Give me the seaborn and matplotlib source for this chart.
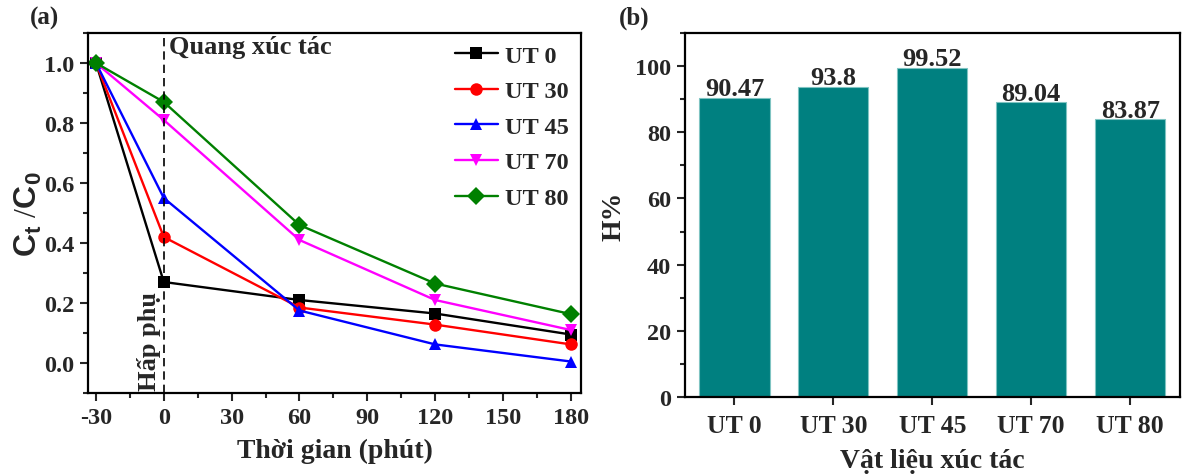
import matplotlib
matplotlib.use("Agg")
import matplotlib.pyplot as plt
import seaborn as sns
import pandas as pd
from matplotlib.ticker import MultipleLocator
from matplotlib.lines import Line2D

# Degradation kinetics data
time_min = [-30, 0, 60, 120, 180]
series_names = ["UT 0", "UT 30", "UT 45", "UT 70", "UT 80"]
ut0 = [1.0, 0.27, 0.21, 0.165, 0.095]
ut30 = [1.0, 0.42, 0.185, 0.128, 0.062]
ut45 = [1.0, 0.55, 0.175, 0.062, 0.005]
ut70 = [1.0, 0.81, 0.41, 0.21, 0.11]
ut80 = [1.0, 0.87, 0.46, 0.265, 0.163]

# Removal efficiency per catalyst
materials = ["UT 0", "UT 30", "UT 45", "UT 70", "UT 80"]
efficiency = [90.47, 93.8, 99.52, 89.04, 83.87]

sns.set_theme(style="ticks")
plt.rcParams["font.family"] = ["Liberation Serif", "DejaVu Serif"]
plt.rcParams["font.weight"] = "bold"
plt.rcParams["axes.unicode_minus"] = False
plt.rcParams["mathtext.fontset"] = "custom"
plt.rcParams["mathtext.bf"] = "Liberation Sans:bold"
plt.rcParams["mathtext.rm"] = "Liberation Sans:bold"
plt.rcParams["axes.linewidth"] = 1.6

colors = ["#000000", "#FF0000", "#0000FF", "#FF00FF", "#008000"]
markers = ["s", "o", "^", "v", "D"]

rows = []
for name, vals in zip(series_names, [ut0, ut30, ut45, ut70, ut80]):
    for t, v in zip(time_min, vals):
        rows.append({"t": t, "c": v, "s": name})
df = pd.DataFrame(rows)

fig = plt.figure(figsize=(11.82, 4.77), dpi=100)
ax1 = fig.add_axes([0.0745, 0.174, 0.417, 0.7547])
ax2 = fig.add_axes([0.5795, 0.1656, 0.4185, 0.7631])

# Panel (a): C_t/C_0 versus time
sns.lineplot(data=df, x="t", y="c", hue="s", style="s",
             palette=dict(zip(series_names, colors)),
             markers=dict(zip(series_names, markers)),
             dashes=False, linewidth=1.7, markersize=9,
             markeredgewidth=0, ax=ax1, legend=False)
ax1.set_xlim(-33.5, 184.5)
ax1.set_ylim(-0.1, 1.1)
ax1.xaxis.set_major_locator(MultipleLocator(30))
ax1.xaxis.set_minor_locator(MultipleLocator(15))
ax1.yaxis.set_major_locator(MultipleLocator(0.2))
ax1.yaxis.set_minor_locator(MultipleLocator(0.1))
ax1.axvline(0, color="black", linestyle=(0, (5, 3)), linewidth=1.2)
ax1.set_xlabel("Thời gian (phút)", fontsize=20, fontweight="bold", labelpad=7)
ax1.set_ylabel(r"$\mathbf{C_t}$ /$\mathbf{C_0}$", fontsize=23, labelpad=0)
ax1.text(2.5, 1.095, "Quang xúc tác", fontsize=19, fontweight="bold",
         ha="left", va="top")
ax1.text(-6.5, -0.09, "Hấp phụ", fontsize=19, fontweight="bold",
         rotation=90, ha="center", va="bottom")

handles = [Line2D([], [], color=c, marker=m, markersize=9, linewidth=1.7,
                  markeredgewidth=0) for c, m in zip(colors, markers)]
leg = ax1.legend(handles, series_names, loc="upper right", frameon=False,
                 fontsize=17.5, handlelength=1.75, labelspacing=0.56,
                 borderaxespad=0.0, handletextpad=0.3,
                 bbox_to_anchor=(0.995, 0.995))
for t in leg.get_texts():
    t.set_fontweight("bold")

# Panel (b): efficiency bars
bar_df = pd.DataFrame({"m": materials, "h": efficiency})
sns.barplot(data=bar_df, x="m", y="h", color="#008080", saturation=1,
            width=0.71, edgecolor="#7fc4c2", linewidth=0.8, ax=ax2)
ax2.bar_label(ax2.containers[0], labels=[f"{v:g}" for v in efficiency],
              fontsize=19, fontweight="bold", padding=-2)
ax2.set_xlim(-0.5, 4.5)
ax2.set_ylim(0, 110)
ax2.yaxis.set_major_locator(MultipleLocator(20))
ax2.yaxis.set_minor_locator(MultipleLocator(10))
ax2.set_xlabel("Vật liệu xúc tác", fontsize=20, fontweight="bold", labelpad=8)
ax2.set_ylabel("H%", fontsize=20, fontweight="bold", labelpad=6)

for ax in (ax1, ax2):
    for sp in ax.spines.values():
        sp.set_visible(True)
        sp.set_linewidth(1.6)
        sp.set_color("black")
    ax.tick_params(which="major", direction="out", length=6, width=1.5,
                   labelsize=17.5, pad=4)
    ax.tick_params(which="minor", direction="out", length=3.5, width=1.5)
    for lab in ax.get_xticklabels() + ax.get_yticklabels():
        lab.set_fontweight("bold")
ax2.tick_params(axis="x", labelsize=18.5, pad=6)

fig.text(0.025, 0.962, "(a)", fontsize=18, fontweight="bold", ha="left", va="center")
fig.text(0.524, 0.962, "(b)", fontsize=18, fontweight="bold", ha="left", va="center")

fig.savefig("out.png", dpi=100)
